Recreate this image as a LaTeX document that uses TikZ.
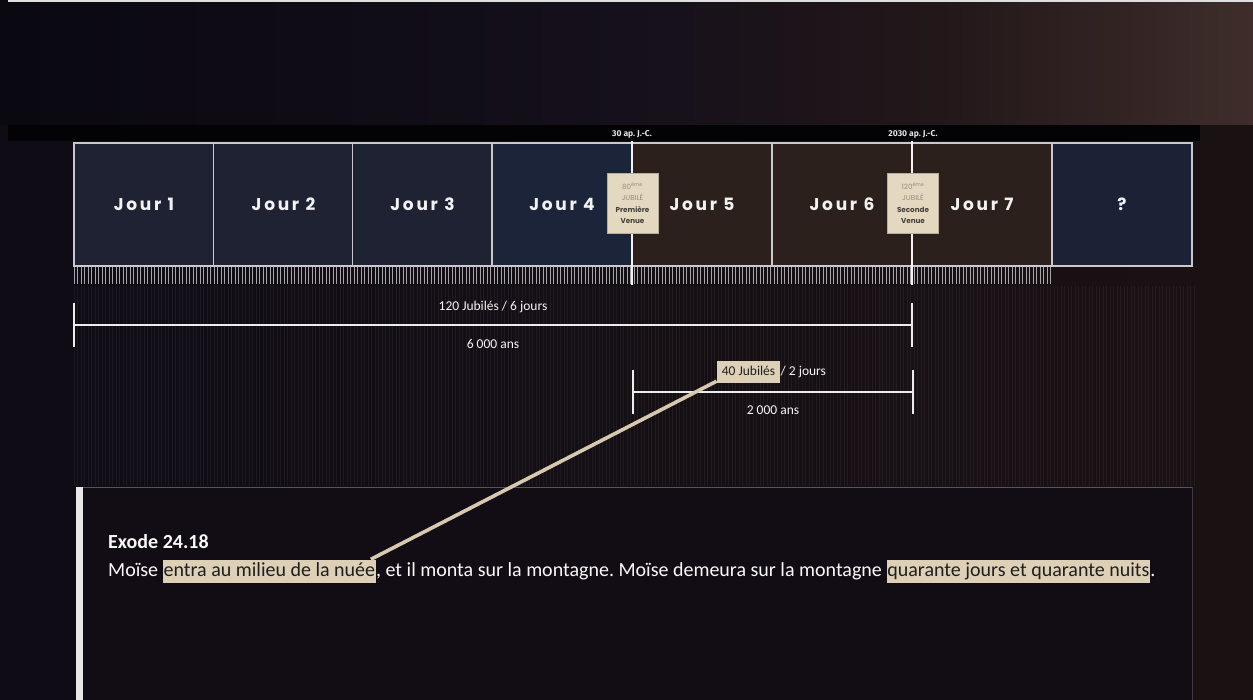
\documentclass[tikz,border=0pt]{standalone}
\usepackage{fontspec}
\setmainfont{Carlito}
\newfontfamily\popp{Poppins}
\newfontfamily\fira{Fira Sans}
\usetikzlibrary{calc}
\frenchspacing
\definecolor{navy}{HTML}{1E2232}
\definecolor{navyb}{HTML}{1C2439}
\definecolor{brn}{HTML}{2B201C}
\definecolor{qnavy}{HTML}{1B2236}
\definecolor{beige}{HTML}{DDD0B7}
\definecolor{vbeige}{HTML}{E4D8C1}
\definecolor{bgl}{HTML}{0F0C16}
\definecolor{bgr}{HTML}{1A1113}
\definecolor{linegray}{HTML}{C9C9CD}
\definecolor{c1}{HTML}{0A0811}
\definecolor{c2}{HTML}{15101B}
\definecolor{c3}{HTML}{231719}
\definecolor{c4}{HTML}{3E2D2B}
\definecolor{panel}{HTML}{120D14}
\definecolor{conn}{HTML}{D6C9AF}
\pgfdeclarehorizontalshading{topbg}{100bp}{color(0bp)=(c1); color(25bp)=(c1); color(50bp)=(c2); color(62.5bp)=(c3); color(75bp)=(c4); color(100bp)=(c4)}
\tikzset{
  cell/.style={draw=linegray, line width=1.4pt, minimum width=140pt, minimum height=123pt, inner sep=0pt,
    text=white!90!gray, font={\popp\bfseries\fontsize{17}{17}\selectfont\addfontfeature{LetterSpace=16}}},
  vbox/.style={fill=vbeige, draw=vbeige!80!black, line width=0.4pt, minimum width=51pt, minimum height=60pt, inner sep=1pt,
    align=center, font={\popp\fontsize{7.2}{11.3}\selectfont}},
  date/.style={inner sep=0pt, text=white!80!gray, font={\fira\bfseries\fontsize{8.5}{9}\selectfont}},
  bar/.style={draw=white!85!gray, line width=2.4pt},
  lab/.style={inner sep=0pt, text=white!92!gray, font={\fontsize{13.5}{16}\selectfont}},
  btxt/.style={anchor=base west, inner sep=0pt, text=white!95!gray, font={\fontsize{20}{24}\selectfont}},
  hl/.style={btxt, fill=beige, text=black!88, text height=15pt, text depth=5pt, inner ysep=1.5pt, inner xsep=0.5pt},
  tickline/.style={draw=white!70!gray, line width=0.8pt, opacity=0.75},
  connline/.style={draw=conn, line width=3.6pt}
}
\begin{document}
\begin{tikzpicture}[x=1pt, y=-1pt]
\useasboundingbox (0,0) rectangle (1253,699);
% backgrounds
\shade[shading=topbg] (0,0) rectangle (1253,125);
\shade[left color=bgl, right color=bgr] (0,125) rectangle (1253,699);
\fill[black!80!bgl] (8,125) rectangle (1200,141);
\draw[white!75!gray, line width=1.5pt] (8,0.75) -- (1253,0.75);
% faint vertical stripes
\foreach \i in {0,...,320} {
  \draw[white, line width=1pt, opacity=0.05] ({74+3.5*\i},286) -- ({74+3.5*\i},486);
}
% ticks under the timeline
\foreach \i in {0,...,279} {
  \draw[tickline] ({74+3.5*\i},267) -- ({74+3.5*\i},284);
}
% day cells
\node[cell, fill=navy]  (d1) at (144,204.5) {Jour 1};
\node[cell, fill=navy]  (d2) at (283.5,204.5) {Jour 2};
\node[cell, fill=navy]  (d3) at (422.5,204.5) {Jour 3};
\node[cell, fill=navyb] (d4) at (562,204.5) {Jour 4};
\node[cell, fill=brn]   (d5) at (702,204.5) {Jour 5};
\node[cell, fill=brn]   (d6) at (842,204.5) {Jour 6};
\node[cell, fill=brn]   (d7) at (982,204.5) {Jour 7};
\node[cell, fill=qnavy] (d8) at (1122,204.5) {?};
\draw[white!90!gray, line width=1.6pt] (632,141) -- (632,285);
\draw[white!90!gray, line width=1.6pt] (912,141) -- (912,285);
% dates
\node[date] (t1) at (632,134.5) {30 ap. J.-C.};
\node[date] (t2) at (913,134.5) {2030 ap. J.-C.};
% coming boxes
\node[vbox] (v1) at (632.5,203) {\textcolor{black!35!vbeige}{80\textsuperscript{ème}}\\\textcolor{black!35!vbeige}{JUBILÉ}\\\textcolor{black!70!vbeige}{\bfseries Première}\\\textcolor{black!70!vbeige}{\bfseries Venue}};
\node[vbox] (v2) at (913,203) {\textcolor{black!35!vbeige}{120\textsuperscript{ème}}\\\textcolor{black!35!vbeige}{JUBILÉ}\\\textcolor{black!70!vbeige}{\bfseries Seconde}\\\textcolor{black!70!vbeige}{\bfseries Venue}};
% bar 1
\coordinate (a1) at (74,325);
\coordinate (a2) at (912,325);
\draw[bar] (a1) -- (a2);
\draw[bar] ($(a1)+(0,-22)$) -- ($(a1)+(0,22)$);
\draw[bar] ($(a2)+(0,-22)$) -- ($(a2)+(0,22)$);
\node[lab] (l1) at (493,307) {120 Jubilés / 6 jours};
\node[lab] (l2) at (493,344) {6 000 ans};
% bar 2
\coordinate (b1) at (633,392);
\coordinate (b2) at (913,392);
\draw[bar] (b1) -- (b2);
\draw[bar] ($(b1)+(0,-22)$) -- ($(b1)+(0,22)$);
\draw[bar] ($(b2)+(0,-22)$) -- ($(b2)+(0,22)$);
\node[lab, fill=beige, text=black!88, text height=10pt, text depth=3pt, inner xsep=5pt, inner ysep=4.5pt] (hl40) at (748.5,372) {40 Jubilés};
\node[lab, anchor=base west] (l3) at (hl40.base east) {/ 2 jours};
\node[lab] (l4) at (773,410) {2 000 ans};
% bottom panel
\fill[panel] (76,487) rectangle (1193,700);
\draw[white!30!panel, line width=1pt] (76,487.5) -- (1193,487.5);
\draw[white!18!panel, line width=1.2pt] (1192.5,487) -- (1192.5,700);
\fill[white!82!gray] (76,487) rectangle (83,700);
\node[btxt, font={\bfseries\fontsize{20}{24}\selectfont}] (ex) at (108,548) {Exode 24.18};
\node[btxt] (w1) at (108,576) {Moïse\ \null};
\node[hl] (hn) at (w1.base east) {entra au milieu de la nuée};
\node[btxt] (w2) at (hn.base east) {, et il monta sur la montagne. Moïse demeura sur la montagne\ \null};
\node[hl] (hq) at (w2.base east) {quarante jours et quarante nuits};
\node[btxt] (w3) at (hq.base east) {.};
% connector
\draw[connline] ($(hl40.south west)+(0,-2)$) -- ($(hn.north east)+(-5,0)$);
\end{tikzpicture}
\end{document}
